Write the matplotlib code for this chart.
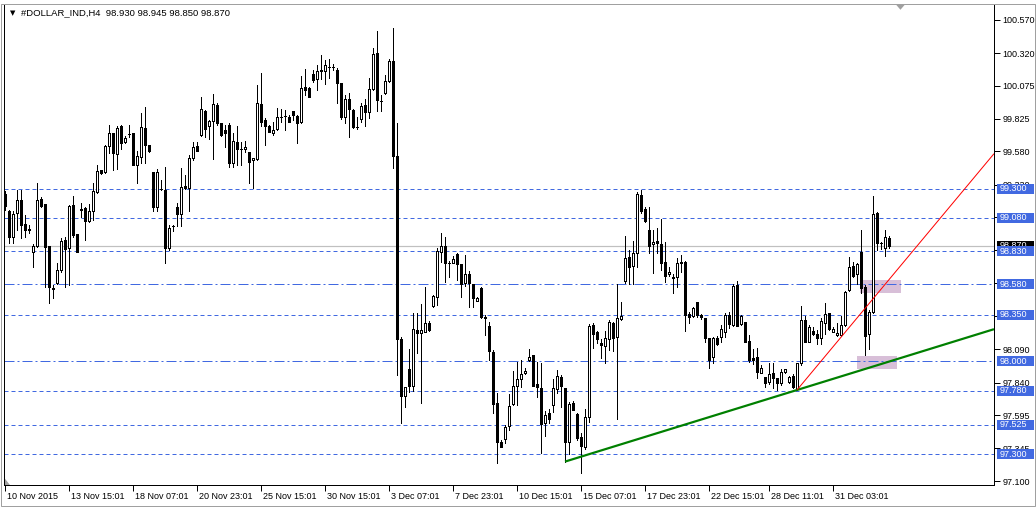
import numpy as np
import matplotlib.pyplot as plt
from matplotlib.patches import Rectangle, Polygon
import matplotlib.transforms as mtransforms

plt.rcParams['font.family'] = ['Liberation Sans', 'DejaVu Sans']
plt.rcParams['lines.scale_dashes'] = False

# H4 candles (10 Nov 2015 .. 31 Dec 2015)
opens = [99.26, 99.13, 98.94, 99.115, 99.215, 99.032, 99.00, 98.82, 98.87, 99.223,
         99.185, 98.87, 98.55, 98.593, 98.688, 98.914, 98.851, 99.177, 98.959, 99.15,
         99.152, 99.059, 99.135, 99.275, 99.441, 99.423, 99.621, 99.717, 99.561, 99.772,
         99.654, 99.71, 99.717, 99.478, 99.541, 99.754, 99.629, 99.428, 99.165, 99.30,
         99.29, 98.851, 99.02, 99.165, 99.11, 99.32, 99.303, 99.529, 99.621, 99.704,
         99.887, 99.772, 99.812, 99.93, 99.792, 99.742, 99.78, 99.491, 99.654, 99.599,
         99.597, 99.574, 99.516, 99.521, 99.938, 99.817, 99.772, 99.717, 99.747, 99.843,
         99.848, 99.842, 99.885, 99.85, 99.805, 100.063, 100.056, 100.164, 100.123, 100.19,
         100.186, 100.219, 100.219, 100.194, 100.093, 99.837, 99.975, 99.893, 99.764, 99.822,
         99.93, 99.88, 100.048, 100.319, 99.962, 100.018, 100.113, 100.261, 99.546, 98.166,
         97.74, 97.941, 97.818, 98.237, 98.212, 98.224, 98.287, 98.417, 98.488, 98.821,
         98.869, 98.744, 98.743, 98.809, 98.734, 98.593, 98.656, 98.583, 98.458, 98.556,
         98.337, 98.267, 98.074, 97.69, 97.396, 97.414, 97.514, 97.68, 97.815, 97.866,
         97.911, 98.011, 98.049, 97.83, 97.798, 97.539, 97.61, 97.672, 97.79, 97.881,
         97.798, 97.396, 97.685, 97.605, 97.429, 97.354, 97.58, 98.275, 98.224, 98.137,
         98.117, 98.167, 98.292, 98.182, 98.317, 98.608, 98.784, 98.719, 98.819, 99.253,
         99.145, 98.99, 98.882, 98.909, 98.882, 98.746, 98.656, 98.633, 98.633, 98.751,
         98.751, 98.357, 98.342, 98.445, 98.35, 98.33, 98.174, 98.031, 98.179, 98.182,
         98.224, 98.35, 98.275, 98.576, 98.282, 98.3, 98.152, 98.024, 98.031, 97.916,
         97.881, 97.848, 97.911, 97.873, 97.836, 97.921, 97.846, 97.893, 97.79, 97.986,
         98.312, 98.149, 98.229, 98.207, 98.179, 98.287, 98.367, 98.224, 98.197, 98.197,
         98.272, 98.538, 98.719, 98.658, 98.822, 98.563, 98.207, 98.37, 99.12, 98.891,
         98.857, 98.93]
highs = [99.28, 99.14, 99.13, 99.29, 99.29, 99.10, 99.027, 98.884, 99.34, 99.24,
         99.185, 98.87, 98.575, 98.738, 98.932, 98.939, 99.177, 99.245, 98.96, 99.19,
         99.165, 99.185, 99.34, 99.478, 99.441, 99.629, 99.78, 99.717, 99.772, 99.78,
         99.697, 99.78, 99.717, 99.584, 99.867, 99.918, 99.629, 99.428, 99.446, 99.366,
         99.466, 99.027, 99.027, 99.19, 99.453, 99.403, 99.554, 99.654, 99.654, 99.993,
         99.892, 99.817, 100.013, 99.943, 99.797, 99.78, 99.792, 99.717, 99.772, 99.654,
         99.662, 99.579, 99.534, 100.081, 100.169, 99.83, 99.78, 99.805, 99.905, 99.898,
         99.893, 99.855, 99.885, 99.855, 100.148, 100.199, 100.068, 100.194, 100.231, 100.307,
         100.269, 100.274, 100.239, 100.206, 100.093, 100.005, 100.018, 99.898, 99.842, 99.943,
         99.975, 100.131, 100.362, 100.487, 100.005, 100.156, 100.274, 100.507, 99.792, 98.186,
         97.81, 98.091, 98.362, 98.362, 98.432, 98.563, 98.304, 98.5, 98.856, 98.969,
         98.939, 98.758, 98.794, 98.814, 98.734, 98.801, 98.681, 98.583, 98.483, 98.563,
         98.35, 98.3, 98.086, 97.765, 97.409, 97.522, 97.753, 97.931, 97.999, 98.011,
         97.948, 98.091, 98.049, 97.999, 97.991, 97.63, 97.64, 97.866, 97.936, 97.898,
         97.798, 97.693, 97.705, 97.61, 97.464, 97.64, 98.28, 98.287, 98.232, 98.167,
         98.232, 98.312, 98.3, 98.583, 98.445, 98.944, 98.839, 98.907, 99.278, 99.291,
         99.165, 99.16, 98.99, 99.002, 99.07, 98.902, 98.709, 98.658, 98.776, 98.801,
         98.756, 98.375, 98.413, 98.45, 98.357, 98.33, 98.174, 98.187, 98.192, 98.275,
         98.367, 98.37, 98.583, 98.608, 98.35, 98.3, 98.199, 98.094, 98.099, 97.973,
         97.886, 97.991, 97.991, 97.878, 97.941, 97.946, 97.891, 97.903, 97.991, 98.418,
         98.342, 98.275, 98.262, 98.237, 98.325, 98.438, 98.367, 98.262, 98.287, 98.342,
         98.533, 98.784, 98.751, 98.739, 98.99, 98.573, 98.387, 99.246, 99.123, 98.902,
         98.99, 98.945]
lows = [99.14, 98.889, 98.89, 98.99, 98.926, 98.94, 98.97, 98.713, 98.864, 99.165,
        98.563, 98.442, 98.475, 98.583, 98.676, 98.563, 98.575, 98.939, 98.82, 99.09,
        98.914, 99.052, 99.064, 99.265, 99.41, 99.416, 99.566, 99.441, 99.446, 99.596,
        99.642, 99.692, 99.478, 99.34, 99.496, 99.491, 99.579, 99.135, 99.135, 99.29,
        98.738, 98.839, 98.982, 99.02, 99.017, 99.30, 99.135, 99.516, 99.586, 99.697,
        99.692, 99.672, 99.521, 99.78, 99.697, 99.616, 99.466, 99.466, 99.479, 99.479,
        99.579, 99.346, 99.303, 99.516, 99.772, 99.629, 99.729, 99.704, 99.742, 99.805,
        99.742, 99.805, 99.817, 99.642, 99.792, 100.005, 99.988, 100.106, 100.043, 100.123,
        100.088, 100.131, 100.194, 99.943, 99.822, 99.792, 99.692, 99.754, 99.747, 99.805,
        99.772, 99.83, 100.043, 99.888, 99.888, 100.013, 100.106, 99.453, 97.898, 97.534,
        97.655, 97.773, 97.78, 98.066, 97.69, 98.224, 98.232, 98.412, 98.425, 98.751,
        98.6, 98.638, 98.738, 98.613, 98.483, 98.568, 98.413, 98.413, 98.458, 98.325,
        98.199, 98.011, 97.61, 97.238, 97.359, 97.384, 97.484, 97.672, 97.672, 97.805,
        97.906, 98.006, 97.818, 97.73, 97.314, 97.439, 97.534, 97.622, 97.76, 97.66,
        97.246, 97.304, 97.635, 97.409, 97.158, 97.339, 97.547, 98.099, 98.137, 98.024,
        97.986, 98.086, 98.081, 97.565, 98.312, 98.588, 98.583, 98.583, 98.709, 99.115,
        99.052, 98.814, 98.663, 98.819, 98.689, 98.601, 98.643, 98.518, 98.558, 98.676,
        98.232, 98.292, 98.337, 98.337, 98.317, 98.149, 97.948, 97.986, 98.124, 98.149,
        98.182, 98.25, 98.267, 98.267, 98.275, 98.149, 97.999, 97.981, 97.873, 97.911,
        97.805, 97.83, 97.798, 97.785, 97.823, 97.916, 97.836, 97.798, 97.785, 97.974,
        98.144, 98.144, 98.199, 98.132, 98.132, 98.207, 98.237, 98.224, 98.192, 98.192,
        98.267, 98.531, 98.638, 98.583, 98.518, 98.049, 98.091, 98.367, 98.839, 98.844,
        98.796, 98.85]
closes = [99.17, 98.94, 99.11, 99.215, 99.027, 98.989, 98.99, 98.87, 99.215, 99.172,
          98.864, 98.558, 98.545, 98.688, 98.906, 98.844, 99.17, 98.952, 98.821, 99.14,
          99.057, 99.135, 99.283, 99.433, 99.416, 99.621, 99.717, 99.566, 99.754, 99.642,
          99.679, 99.709, 99.478, 99.546, 99.762, 99.629, 99.584, 99.165, 99.428, 99.298,
          98.851, 99.002, 99.017, 99.11, 99.315, 99.303, 99.529, 99.611, 99.586, 99.897,
          99.747, 99.81, 99.938, 99.792, 99.704, 99.722, 99.491, 99.659, 99.597, 99.596,
          99.614, 99.504, 99.534, 99.943, 99.805, 99.772, 99.729, 99.742, 99.837, 99.842,
          99.847, 99.805, 99.855, 99.797, 100.056, 100.043, 99.988, 100.118, 100.189, 100.188,
          100.231, 100.218, 100.218, 100.093, 99.842, 99.973, 99.898, 99.762, 99.762, 99.923,
          99.88, 100.048, 100.314, 99.968, 99.96, 100.111, 100.261, 99.546, 98.166, 97.74,
          97.805, 97.818, 98.242, 98.217, 98.237, 98.287, 98.237, 98.493, 98.831, 98.869,
          98.743, 98.742, 98.774, 98.734, 98.583, 98.656, 98.588, 98.475, 98.475, 98.337,
          98.325, 98.081, 97.68, 97.396, 97.359, 97.504, 97.667, 97.815, 97.866, 97.906,
          97.928, 98.031, 97.818, 97.81, 97.529, 97.597, 97.565, 97.798, 97.891, 97.815,
          97.396, 97.68, 97.635, 97.421, 97.364, 97.58, 98.267, 98.207, 98.167, 98.127,
          98.174, 98.295, 98.174, 98.325, 98.342, 98.776, 98.714, 98.819, 99.261, 99.135,
          99.06, 98.872, 98.902, 98.889, 98.744, 98.646, 98.671, 98.628, 98.739, 98.739,
          98.35, 98.332, 98.405, 98.35, 98.337, 98.179, 98.011, 98.174, 98.129, 98.244,
          98.35, 98.282, 98.568, 98.267, 98.342, 98.149, 98.011, 98.011, 97.918, 97.953,
          97.836, 97.903, 97.873, 97.836, 97.918, 97.941, 97.881, 97.805, 97.986, 98.312,
          98.149, 98.257, 98.207, 98.179, 98.305, 98.355, 98.242, 98.244, 98.217, 98.272,
          98.523, 98.714, 98.643, 98.731, 98.551, 98.194, 98.37, 99.11, 98.889, 98.889,
          98.934, 98.87]

header = "#DOLLAR_IND,H4  98.930 98.945 98.850 98.870"
price_ticks = [100.570, 100.320, 100.075, 99.825, 99.580, 99.330, 99.085, 98.835,
               98.590, 98.340, 98.090, 97.840, 97.595, 97.345, 97.100]
dash_levels = [99.300, 99.080, 98.830, 98.350, 97.780, 97.525, 97.300]
dashdot_levels = [98.580, 98.000]
current_price = 98.870
date_ticks = [0, 16, 32, 48, 64, 80, 96, 112, 128, 144, 160, 176, 191, 207]
date_labels = ["10 Nov 2015", "13 Nov 15:01", "18 Nov 07:01", "20 Nov 23:01",
               "25 Nov 15:01", "30 Nov 15:01", "3 Dec 07:01", "7 Dec 23:01",
               "10 Dec 15:01", "15 Dec 07:01", "17 Dec 23:01", "22 Dec 15:01",
               "28 Dec 11:01", "31 Dec 03:01"]
# trend lines: two anchor points (bar index, price), extended to the right
green_bars, green_prices = [140, 198], [97.246, 97.785]
red_bars, red_prices = [198, 225], [97.785, 98.76]
# shaded zones: bar_from, bar_to, price_low, price_high
zones = [(213.75, 224, 98.515, 98.613), (213, 223, 97.943, 98.041)]

W, H = 1036, 508
BLUE = '#4169E1'
px = 0.72  # one pixel in points

fig = plt.figure(figsize=(W / 100, H / 100), dpi=100)
ax = fig.add_axes([4 / W, 23 / H, 990 / W, 481 / H])
xmin, xmax = -0.25, 247.25
ax.set_xlim(xmin, xmax)
ax.set_ylim(97.07, 100.69)

o = np.array(opens); h = np.array(highs); l = np.array(lows); c = np.array(closes)
x = np.arange(len(o))
bull = c >= o

ax.vlines(x, l, h, color='black', lw=px, antialiased=False, zorder=3)
body_lo = np.minimum(o, c)
body_h = np.maximum(np.abs(c - o), 0.001)
ax.bar(x, body_h, bottom=body_lo, width=0.5,
       color=np.where(bull, 'white', 'black'), edgecolor='black',
       linewidth=px, antialiased=False, zorder=4)

for lv in dash_levels:
    ax.axhline(lv, color=BLUE, lw=px, dashes=(4 * px, 3 * px), zorder=1)
for lv in dashdot_levels:
    ax.axhline(lv, color=BLUE, lw=px, dashes=(10 * px, 3 * px, 2 * px, 3 * px), zorder=1)
ax.axhline(current_price, color='#c0c0c0', lw=px * 1.2, zorder=1)

for b0, b1, p0, p1 in zones:
    ax.add_patch(Rectangle((b0, p0), b1 - b0, p1 - p0, facecolor='#d8bfd8',
                           edgecolor='none', zorder=0.5))


def ray(bars, prices, color, lw):
    k = (prices[1] - prices[0]) / (bars[1] - bars[0])
    xe = xmax
    ax.plot([bars[0], xe], [prices[0], prices[0] + k * (xe - bars[0])],
            color=color, lw=lw, zorder=5, solid_capstyle='butt')


ray(green_bars, green_prices, '#008000', 2.2 * px)
ray(red_bars, red_prices, '#ff0000', 1.0 * px)

# axes look
for s in ['left', 'right', 'bottom']:
    ax.spines[s].set_color('black')
    ax.spines[s].set_linewidth(px)
ax.spines['top'].set_color('#a0a0a0')
ax.spines['top'].set_linewidth(px)

ax.yaxis.tick_right()
ax.set_yticks(price_ticks)
ax.set_yticklabels([f"{v:.3f}" for v in price_ticks])
ax.tick_params(axis='y', length=4, width=px, pad=2, labelsize=6.5, colors='black')
ax.set_xticks(date_ticks)
ax.set_xticklabels(date_labels)
ax.tick_params(axis='x', length=4, width=px, pad=1, labelsize=6.5)
shift = mtransforms.ScaledTranslation(2 / 100, 0, fig.dpi_scale_trans)
for lbl in ax.get_xticklabels():
    lbl.set_horizontalalignment('left')
    lbl.set_transform(lbl.get_transform() + shift)

# price boxes on the right scale
yt = ax.get_yaxis_transform()
bw = 37 / 990
bh = 10 / 132.85


def price_box(val, fc, z):
    ax.add_patch(Rectangle((1 + 3 / 990, val - bh / 2), bw, bh, transform=yt,
                           facecolor=fc, edgecolor='none', clip_on=False, zorder=z))
    ax.text(1 + 6 / 990, val, f"{val:.3f}", transform=yt, color='white',
            fontsize=6.5, va='center', ha='left', clip_on=False, zorder=z + 0.1)


price_box(current_price, 'black', 10)
for lv in sorted(dash_levels + dashdot_levels):
    price_box(lv, BLUE, 11)

# header
fig.text(10 / W, 1 - 13 / H, "\u25BC", fontsize=5, va='center', ha='left',
         family='DejaVu Sans')
fig.text(21 / W, 1 - 13 / H, header, fontsize=6.8, va='center', ha='left')

# small chart markers
ax.add_patch(Polygon([(0.9005, 1.0), (0.9105, 1.0), (0.9055, 0.988)], closed=True,
                     transform=ax.transAxes, facecolor='#a0a0a0', edgecolor='none',
                     clip_on=False, zorder=12))
ax.add_patch(Polygon([(0.001, 0.0), (0.001, 0.013), (0.006, 0.0)], closed=True,
                     transform=ax.transAxes, facecolor='#a0a0a0', edgecolor='none',
                     clip_on=False, zorder=12))

# window frame
fig.add_artist(Rectangle((0.5 / W, 2.5 / H), 1034.5 / W, 502 / H, transform=fig.transFigure,
                         fill=False, edgecolor='#a0a0a0', lw=px))

fig.savefig('out.png', dpi=100)
